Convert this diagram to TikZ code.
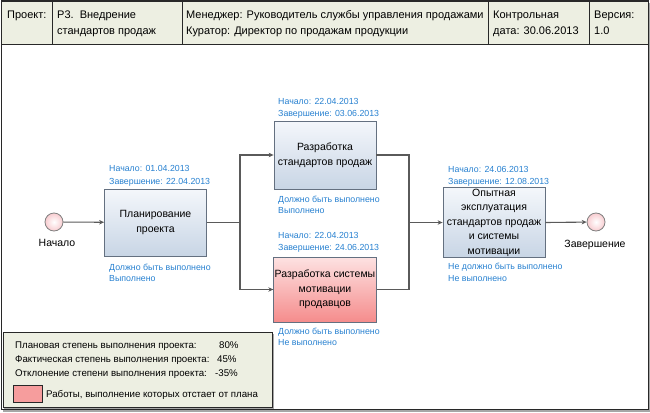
\documentclass[tikz,border=0pt]{standalone}
\usepackage{fontspec}
\setmainfont{Liberation Sans}
\usetikzlibrary{arrows.meta}
\definecolor{hdrbg}{RGB}{237,239,226}
\definecolor{lblue}{RGB}{38,128,208}
\definecolor{boxline}{RGB}{100,112,128}
\definecolor{conn}{RGB}{90,90,90}
\definecolor{btop}{RGB}{244,247,251}
\definecolor{bbot}{RGB}{200,213,229}
\definecolor{rtop}{RGB}{253,226,226}
\definecolor{rbot}{RGB}{245,140,140}
\definecolor{circfill}{RGB}{248,204,208}
\definecolor{frame}{RGB}{40,40,40}
\tikzset{
  hdrcell/.style={draw=frame, fill=hdrbg, line width=0.8pt},
  hdrtxt/.style={anchor=base west, inner sep=0pt, font=\fontsize{11}{12}\selectfont},
  task/.style={draw=boxline, line width=0.8pt, top color=btop, bottom color=bbot,
    minimum width=102pt, align=center, inner sep=1pt, font=\fontsize{10.5}{14.5}\selectfont},
  redtask/.style={task, top color=rtop, bottom color=rbot},
  circ/.style={circle, draw=gray, line width=0.8pt, inner color=white, outer color=circfill, minimum size=18pt, inner sep=0pt},
  lbl/.style={anchor=base west, inner sep=0pt, text=lblue, font=\fontsize{8.8}{11}\selectfont},
  evtxt/.style={anchor=base, inner sep=0pt, font=\fontsize{10.5}{12}\selectfont},
  legtxt/.style={anchor=base west, inner sep=0pt, font=\fontsize{9.7}{12}\selectfont},
  line/.style={draw=conn, line width=1.1pt},
  arr/.style={line, -{Stealth[length=5pt,width=4.5pt]}},
}
\begin{document}
\begin{tikzpicture}[x=1pt,y=-1pt]
\useasboundingbox (0,0) rectangle (650,412);
% outer frame with shadow
\draw[gray!70, line width=1.5pt] (3,411) -- (649.5,411) -- (649.5,3);
\draw[frame, line width=1pt] (1,1) rectangle (648,409);
% header
\draw[hdrcell] (1,1) rectangle (52,44);
\draw[hdrcell] (52,1) rectangle (182,44);
\draw[hdrcell] (182,1) rectangle (488,44);
\draw[hdrcell] (488,1) rectangle (589,44);
\draw[hdrcell] (589,1) rectangle (648,44);
\node[hdrtxt] (h1) at (7,18.5) {Проект:};
\node[hdrtxt] (h2a) at (57,18.5) {Р3.\ \ Внедрение};
\node[hdrtxt] (h2b) at (57,34.5) {стандартов продаж};
\node[hdrtxt] (h3a) at (186,18.5) {Менеджер: Руководитель службы управления продажами};
\node[hdrtxt] (h3b) at (186,34.5) {Куратор: Директор по продажам продукции};
\node[hdrtxt] (h4a) at (493,18.5) {Контрольная};
\node[hdrtxt] (h4b) at (493,34.5) {дата: 30.06.2013};
\node[hdrtxt] (h5a) at (594,18.5) {Версия:};
\node[hdrtxt] (h5b) at (594,34.5) {1.0};

% events
\node[circ] (start) at (54,222) {};
\node[evtxt] (startl) at (57,246) {Начало};
\node[circ] (end) at (596,222) {};
\node[evtxt] (endl) at (595,247) {Завершение};

% tasks
\node[task, minimum height=67pt] (t1) at (155.5,222.5) {Планирование\\проекта};
\node[task, minimum height=68pt] (t2) at (325,155) {Разработка\\стандартов продаж};
\node[redtask, minimum height=65pt] (t3) at (325,289.5) {Разработка системы\\мотивации\\продавцов};
\node[task, minimum height=69pt] (t4) at (494,222.5) {Опытная\\эксплуатация\\стандартов продаж\\и системы\\мотивации};

% labels t1
\node[lbl] (t1a) at (109,171) {Начало: 01.04.2013};
\node[lbl] (t1b) at (109,184) {Завершение: 22.04.2013};
\node[lbl] (t1c) at (109,270) {Должно быть выполнено};
\node[lbl] (t1d) at (109,281.5) {Выполнено};
% labels t2
\node[lbl] (t2a) at (278,104) {Начало: 22.04.2013};
\node[lbl] (t2b) at (278,116.5) {Завершение: 03.06.2013};
\node[lbl] (t2c) at (278,202) {Должно быть выполнено};
\node[lbl] (t2d) at (278,213.5) {Выполнено};
% labels t3
\node[lbl] (t3a) at (278,238) {Начало: 22.04.2013};
\node[lbl] (t3b) at (278,250.5) {Завершение: 24.06.2013};
\node[lbl] (t3c) at (278,334) {Должно быть выполнено};
\node[lbl] (t3d) at (278,345.5) {Не выполнено};
% labels t4
\node[lbl] (t4a) at (448,172) {Начало: 24.06.2013};
\node[lbl] (t4b) at (448,184) {Завершение: 12.08.2013};
\node[lbl] (t4c) at (448,269.5) {Не должно быть выполнено};
\node[lbl] (t4d) at (448,281) {Не выполнено};

% connectors
\coordinate (split) at (240,222.5);
\coordinate (merge) at (409,222.5);
\draw[arr] (start) -- (t1);
\draw[line] (t1.east) -- (split);
\draw[arr] (split) |- (t2.west);
\draw[arr] (split) |- (t3.west);
\draw[line] (t2.east) -| (merge);
\draw[line] (t3.east) -| (merge);
\draw[arr] (merge) -- (t4.west);
\draw[arr] (t4.east) -- (end);

% legend
\draw[gray!70, line width=1.5pt] (4,408.5) -- (273.5,408.5) -- (273.5,334);
\draw[frame, fill=hdrbg, line width=0.8pt] (3,332) rectangle (272,407);
\node[legtxt] (g1) at (15,348) {Плановая степень выполнения проекта:};
\node[legtxt] (g1v) at (219,348) {80\%};
\node[legtxt] (g2) at (15,362) {Фактическая степень выполнения проекта:};
\node[legtxt] (g2v) at (217,362) {45\%};
\node[legtxt] (g3) at (15,376) {Отклонение степени выполнения проекта:};
\node[legtxt] (g3v) at (215,376) {-35\%};
\node[draw=frame, fill=rbot!85!white, line width=0.8pt, minimum width=29pt, minimum height=17pt, inner sep=0pt] (sw) at (27.5,393.5) {};
\node[legtxt] (g4) at (46,397) {Работы, выполнение которых отстает от плана};
\end{tikzpicture}
\end{document}
